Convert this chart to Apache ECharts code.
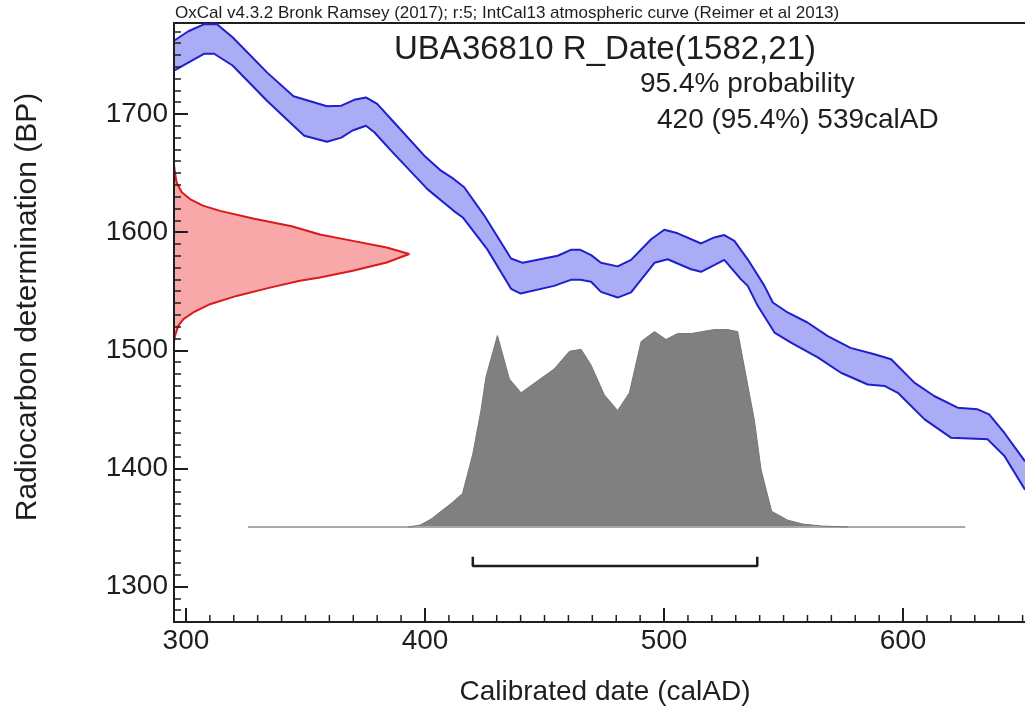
<!doctype html>
<html>
<head>
  <meta charset="utf-8">
  <title>UBA36810 R_Date</title>
  <script src="https://cdn.jsdelivr.net/npm/echarts@6.0.0/dist/echarts.min.js"></script>
  <style>
    html, body { margin: 0; padding: 0; background: #fff; }
    #main { width: 1025px; height: 716px; }
  </style>
</head>
<body>
<div id="main"></div>
<script>
  // IntCal13 curve band, upper and lower edges (calAD, BP)
  var upperYr = [295, 301, 307.7, 313, 319.5, 334, 345, 359, 365, 370.4, 375.3, 380, 387, 399.7, 406.7, 412, 416.4, 424.8, 436, 440.9, 455.5, 461, 465, 469.5, 473.6, 480.6, 486.2, 494.6, 500.1, 505.7, 515.5, 521, 525.2, 529.4, 535, 542, 545.5, 551.7, 560, 568.5, 578, 588, 595, 604.7, 613, 622.8, 631.2, 636, 642.4, 651];
  var upperBP = [1762, 1770, 1776, 1776, 1765, 1735, 1715, 1706.5, 1707, 1712, 1714, 1708.5, 1693, 1664.7, 1652, 1645, 1638, 1614, 1577.7, 1574, 1580, 1585, 1585, 1580.5, 1574, 1571, 1576.5, 1594, 1602, 1599, 1590.4, 1595.5, 1597.5, 1592.6, 1577, 1554.5, 1540.4, 1532, 1523.5, 1512, 1502, 1496.6, 1492.4, 1472.6, 1461.3, 1451.4, 1450, 1445.8, 1430, 1406];
  var lowerYr = [295, 307.7, 311.8, 319.5, 334, 345, 349.5, 359, 365, 369.7, 375.3, 378.8, 385.8, 401, 412, 415.8, 426, 436, 440, 454, 461, 465, 469.5, 473.6, 480.6, 486.2, 496, 501.5, 511.3, 515.5, 525.2, 532.2, 535, 539.2, 546.2, 553.1, 564.3, 574, 585.2, 592.2, 597.8, 609, 620, 635.4, 642.4, 651];
  var lowerBP = [1736.7, 1751, 1751, 1741, 1711, 1690, 1681.6, 1676.5, 1680, 1686, 1690, 1684.5, 1669, 1636.4, 1618, 1612.4, 1585.6, 1552, 1548, 1554.5, 1559.6, 1559.6, 1558, 1549.4, 1544.6, 1549, 1574, 1577, 1568.6, 1566.4, 1576.5, 1560, 1554.5, 1537.6, 1515, 1506.5, 1494, 1481, 1471, 1469.8, 1464, 1441.5, 1426, 1424.6, 1410.5, 1382];

  // radiocarbon measurement 1582 +/- 21 (relative probability)
  var rcBP = [1657, 1650.6, 1642, 1633.7, 1628, 1622.4, 1618, 1611.5, 1605, 1598, 1592.6, 1587, 1581.5, 1574.3, 1567.3, 1561.6, 1558.8, 1553, 1546, 1539, 1532, 1526.4, 1520.7, 1512, 1507];
  var rcProb = [0, 0.004, 0.011, 0.033, 0.068, 0.123, 0.196, 0.336, 0.5, 0.62, 0.76, 0.904, 1, 0.904, 0.76, 0.62, 0.535, 0.408, 0.266, 0.153, 0.082, 0.04, 0.018, 0.004, 0];

  // calibrated distribution (calAD, relative probability)
  var calYr = [393, 398, 402.5, 411, 415.7, 420, 423.4, 425.5, 430.3, 435.3, 440.2, 447, 454, 460.4, 465.3, 469.5, 475, 480.6, 485.5, 490.4, 496, 500.8, 505.7, 511.3, 521, 526.6, 530.8, 535, 537.8, 540.6, 545, 551.7, 558, 566, 577];
  var calProb = [0, 0.01, 0.04, 0.12, 0.17, 0.37, 0.59, 0.76, 0.97, 0.75, 0.68, 0.74, 0.8, 0.89, 0.9, 0.82, 0.67, 0.59, 0.68, 0.94, 0.99, 0.95, 0.98, 0.98, 1, 1, 0.99, 0.72, 0.54, 0.29, 0.08, 0.035, 0.015, 0.005, 0];
  var calSpan = [326, 626];
  var range954 = [420, 539];

  var xMajor = [300, 400, 500, 600];
  var yMajor = [1300, 1400, 1500, 1600, 1700];
  var xMinor = [], yMinor = [];
  for (var v = 300; v <= 650; v += 10) xMinor.push(v);
  for (var w = 1280; w <= 1770; w += 10) yMinor.push(w);

  var ink = '#1e1e1e';
  var font = 'Liberation Sans';
  // bracket height as a fraction of the plot height
  var bracketLevel = 0.0935, bracketTop = 0.109;

  function pairs(a, b) {
    var out = [];
    for (var i = 0; i < a.length; i++) out.push([a[i], b[i]]);
    return out;
  }

  var chart = echarts.init(document.getElementById('main'));

  var option = {
    animation: false,
    backgroundColor: '#fff',
    grid: { left: 174, right: 0, top: 23, bottom: 94, containLabel: false, outerBoundsMode: 'none' },
    xAxis: [
      {
        type: 'value', min: 295, max: 651, position: 'bottom',
        axisLine: { show: true, onZero: false, lineStyle: { color: ink, width: 2 } },
        axisTick: { show: true, inside: true, length: 14, customValues: xMajor, lineStyle: { color: ink, width: 2 } },
        axisLabel: { customValues: xMajor, fontSize: 28, color: ink, margin: 5, fontFamily: font, formatter: function (v) { return String(v); } },
        splitLine: { show: false }
      },
      { type: 'value', min: 295, max: 651, show: false },
      {
        type: 'value', min: 295, max: 651, position: 'top',
        axisLine: { show: true, onZero: false, lineStyle: { color: ink, width: 2 } },
        axisTick: { show: false }, axisLabel: { show: false }, splitLine: { show: false }
      },
      { type: 'value', min: 0, max: 3.617, show: false }
    ],
    yAxis: [
      {
        type: 'value', min: 1270, max: 1777, position: 'left', z: 10,
        axisLine: { show: true, onZero: false, lineStyle: { color: ink, width: 2 } },
        axisTick: { show: true, inside: true, length: 14, customValues: yMajor, lineStyle: { color: ink, width: 2 } },
        axisLabel: { customValues: yMajor, fontSize: 28, color: ink, margin: 6, fontFamily: font, formatter: function (v) { return String(v); } },
        splitLine: { show: false }
      },
      {
        // minor ticks, held on the left edge via the density x axis
        type: 'value', min: 1270, max: 1777, position: 'left', z: 10,
        axisLine: { show: false, onZero: true, onZeroAxisIndex: 3 },
        axisTick: { show: true, inside: true, length: 7, customValues: yMinor, lineStyle: { color: ink, width: 1.5 } },
        axisLabel: { show: false },
        splitLine: { show: false }
      },
      { type: 'value', min: -0.481, max: 2.553, show: false },
      { type: 'value', min: 0, max: 1, show: false }
    ],
    graphic: [
      { type: 'text', x: 175, y: 13, style: { text: 'OxCal v4.3.2 Bronk Ramsey (2017); r:5; IntCal13 atmospheric curve (Reimer et al 2013)', font: '17px ' + font, fill: ink, align: 'left', verticalAlign: 'middle' } },
      { type: 'text', x: 605, y: 50, style: { text: 'UBA36810 R_Date(1582,21)', font: '33px ' + font, fill: ink, align: 'center', verticalAlign: 'middle' } },
      { type: 'text', x: 640, y: 84, style: { text: '95.4% probability', font: '28px ' + font, fill: ink, align: 'left', verticalAlign: 'middle' } },
      { type: 'text', x: 657, y: 120, style: { text: '420 (95.4%) 539calAD', font: '28px ' + font, fill: ink, align: 'left', verticalAlign: 'middle' } },
      { type: 'text', x: 605, y: 692, style: { text: 'Calibrated date (calAD)', font: '28px ' + font, fill: ink, align: 'center', verticalAlign: 'middle' } },
      { type: 'text', x: 28, y: 307, rotation: Math.PI / 2, style: { text: 'Radiocarbon determination (BP)', font: '30px ' + font, fill: ink, align: 'center', verticalAlign: 'middle' } }
    ],
    series: [
      {
        type: 'custom', coordinateSystem: 'cartesian2d', xAxisIndex: 0, yAxisIndex: 0, silent: true,
        data: [[400, 1600]],
        renderItem: function (params, api) {
          var pts = [];
          for (var i = 0; i < upperYr.length; i++) pts.push(api.coord([upperYr[i], upperBP[i]]));
          for (var j = lowerYr.length - 1; j >= 0; j--) pts.push(api.coord([lowerYr[j], lowerBP[j]]));
          return { type: 'polygon', shape: { points: pts }, style: { fill: '#aaadf5' } };
        }
      },
      { type: 'line', xAxisIndex: 0, yAxisIndex: 0, data: pairs(upperYr, upperBP), symbol: 'none', silent: true, lineStyle: { color: '#1f1fcc', width: 2 } },
      { type: 'line', xAxisIndex: 0, yAxisIndex: 0, data: pairs(lowerYr, lowerBP), symbol: 'none', silent: true, lineStyle: { color: '#1f1fcc', width: 2 } },
      {
        type: 'custom', coordinateSystem: 'cartesian2d', xAxisIndex: 3, yAxisIndex: 0, silent: true,
        data: [[0.5, 1580]],
        renderItem: function (params, api) {
          var pts = [];
          for (var i = 0; i < rcBP.length; i++) pts.push(api.coord([rcProb[i], rcBP[i]]));
          return { type: 'polygon', shape: { points: pts }, style: { fill: '#f8a8a8' } };
        }
      },
      { type: 'line', xAxisIndex: 3, yAxisIndex: 0, data: pairs(rcProb, rcBP), symbol: 'none', silent: true, lineStyle: { color: '#d91a1a', width: 2 } },
      { type: 'line', xAxisIndex: 0, yAxisIndex: 2, data: [[calSpan[0], 0], [calSpan[1], 0]], symbol: 'none', silent: true, lineStyle: { color: '#a8a8a8', width: 2 } },
      {
        type: 'line', xAxisIndex: 0, yAxisIndex: 2, data: pairs(calYr, calProb), symbol: 'none', silent: true,
        lineStyle: { color: '#767676', width: 1 }, areaStyle: { color: '#808080', opacity: 1 }
      },
      {
        type: 'line', xAxisIndex: 0, yAxisIndex: 3, symbol: 'none', silent: true,
        data: [[range954[0], bracketTop], [range954[0], bracketLevel], [range954[1], bracketLevel], [range954[1], bracketTop]],
        lineStyle: { color: ink, width: 2.5 }
      },
      {
        // 10-year minor ticks along the bottom edge
        type: 'custom', coordinateSystem: 'cartesian2d', xAxisIndex: 0, yAxisIndex: 3, silent: true, z: 5,
        data: xMinor.map(function (t) { return [t, 0]; }),
        renderItem: function (params, api) {
          var p = api.coord([api.value(0), 0]);
          return { type: 'line', shape: { x1: p[0], y1: p[1], x2: p[0], y2: p[1] - 7 }, style: { stroke: ink, lineWidth: 1.5 } };
        }
      }
    ]
  };

  chart.setOption(option);
</script>
</body>
</html>
